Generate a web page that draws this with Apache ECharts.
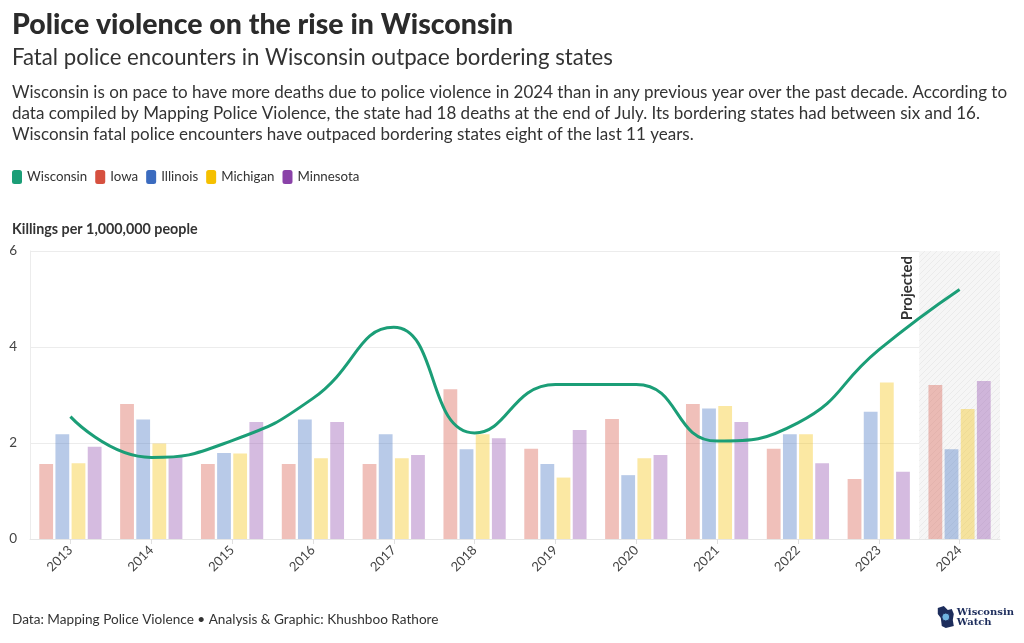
<!DOCTYPE html>
<html><head><meta charset="utf-8">
<script src="https://cdn.jsdelivr.net/npm/echarts@6/dist/echarts.min.js"></script>
<style>html,body{margin:0;padding:0;background:#fff}#c{width:1024px;height:643px}</style>
</head><body><div id="c"></div>
<script>
const years = ['2013','2014','2015','2016','2017','2018','2019','2020','2021','2022','2023','2024'];
const yTicks = [0, 2, 4, 6];
const wisconsin = [2.55, 1.70, 2.05, 2.93, 4.41, 2.21, 3.22, 3.22, 2.04, 2.42, 3.94, 5.20];
const iowa      = [1.56, 2.81, 1.56, 1.56, 1.56, 3.12, 1.88, 2.50, 2.81, 1.88, 1.25, 3.21];
const illinois  = [2.18, 2.49, 1.79, 2.49, 2.18, 1.87, 1.56, 1.33, 2.72, 2.18, 2.65, 1.87];
const michigan  = [1.58, 1.99, 1.78, 1.68, 1.68, 2.18, 1.28, 1.68, 2.77, 2.18, 3.26, 2.71];
const minnesota = [1.92, 1.71, 2.44, 2.44, 1.75, 2.10, 2.27, 1.75, 2.44, 1.58, 1.40, 3.29];
const projectedIndex = 11;

const FONT = 'Lato, "Source Sans Pro", "Noto Sans", sans-serif';
const colors = {Wisconsin:'#1b9e77', Iowa:'#d6503f', Illinois:'#3b6bbf', Michigan:'#f5c000', Minnesota:'#8a42a8'};

// hatch pattern for projected area
const pc = document.createElement('canvas');
pc.width = 6; pc.height = 6;
const px = pc.getContext('2d');
px.fillStyle = '#f6f6f6'; px.fillRect(0,0,6,6);
px.strokeStyle = '#ebebeb'; px.lineWidth = 1;
px.beginPath(); px.moveTo(0,6); px.lineTo(6,0); px.stroke();
px.beginPath(); px.moveTo(-1,1); px.lineTo(1,-1); px.stroke();
px.beginPath(); px.moveTo(5,7); px.lineTo(7,5); px.stroke();

const chart = echarts.init(document.getElementById('c'), null, {renderer:'canvas'});

function barSeries(name, data){
  return {
    name, type:'bar', data, z:3,
    barGap:'17%', barCategoryGap:'23%',
    itemStyle:{color:colors[name], opacity:0.36},
    emphasis:{disabled:true}
  };
}

chart.setOption({
  animation:false,
  backgroundColor:'#fff',
  textStyle:{fontFamily:FONT},
  title:[
    {text:'Police violence on the rise in Wisconsin', left:12, top:10, padding:0,
     textStyle:{fontFamily:FONT, fontSize:28.5, fontWeight:900, color:'#2b2b2b'}},
    {text:'Fatal police encounters in Wisconsin outpace bordering states', left:12, top:47, padding:0,
     textStyle:{fontFamily:FONT, fontSize:22.2, fontWeight:'normal', color:'#333'}},
    {text:'Wisconsin is on pace to have more deaths due to police violence in 2024 than in any previous year over the past decade. According to\ndata compiled by Mapping Police Violence, the state had 18 deaths at the end of July. Its bordering states had between six and 16.\nWisconsin fatal police encounters have outpaced bordering states eight of the last 11 years.',
     left:12, top:82, padding:0,
     textStyle:{fontFamily:FONT, fontSize:17, fontWeight:'normal', color:'#333', lineHeight:21}},
    {text:'Killings per 1,000,000 people', left:12, top:222, padding:0,
     textStyle:{fontFamily:FONT, fontSize:14.3, fontWeight:'bold', color:'#333'}},
    {text:'Data: Mapping Police Violence • Analysis & Graphic: Khushboo Rathore', left:12, top:613, padding:0,
     textStyle:{fontFamily:FONT, fontSize:13.6, fontWeight:'normal', color:'#333'}}
  ],
  legend:{
    left:12, top:170, padding:0, itemWidth:10, itemHeight:14, itemGap:8, icon:'roundRect',
    textStyle:{fontFamily:FONT, fontSize:13.3, color:'#333'},
    data:['Wisconsin','Iowa','Illinois','Michigan','Minnesota'].map(n=>({name:n, icon:'roundRect', itemStyle:{color:colors[n], opacity:1}})),
    selectedMode:false
  },
  grid:{left:30, right:24, top:251, bottom:104, containLabel:false},
  xAxis:[
    {type:'category', data:years, boundaryGap:true,
     axisLine:{show:true, lineStyle:{color:'#e6e6e6'}},
     axisTick:{show:true, alignWithLabel:true, length:5, lineStyle:{color:'#e0e0e0'}},
     axisLabel:{rotate:45, fontSize:13, color:'#444', margin:9, fontFamily:FONT},
     splitLine:{show:false}},
    {type:'value', min:0, max:years.length, show:false}
  ],
  yAxis:{type:'value', min:yTicks[0], max:yTicks[yTicks.length-1], interval:2,
    axisLine:{show:true, lineStyle:{color:'#ececec'}},
    axisTick:{show:false},
    axisLabel:{fontSize:13.5, color:'#444', margin:13, fontFamily:FONT},
    splitLine:{show:true, lineStyle:{color:'#ececec'}}},
  series:[
    {name:'projected', type:'line', xAxisIndex:1, data:[], z:1, silent:true,
     markArea:{silent:true, itemStyle:{color:{image:pc, repeat:'repeat'}},
       data:[[{xAxis:projectedIndex},{xAxis:years.length}]]},
     markLine:{silent:true, symbol:['none','none'], lineStyle:{color:'rgba(0,0,0,0)', width:0},
       label:{show:true, position:'insideEndTop', formatter:'Projected', fontFamily:FONT,
              fontSize:15, fontWeight:'bold', color:'#333', distance:5},
       data:[{xAxis:projectedIndex}]}
    },
    barSeries('Iowa', iowa),
    barSeries('Illinois', illinois),
    barSeries('Michigan', michigan),
    barSeries('Minnesota', minnesota),
    {name:'Wisconsin', type:'line', data:wisconsin, smooth:0.5, z:5,
     symbol:'none', showSymbol:false,
     lineStyle:{color:colors.Wisconsin, width:3},
     itemStyle:{color:colors.Wisconsin},
     emphasis:{disabled:true}}
  ],
  graphic:[
    {type:'group', right:10, top:606, children:[
      {type:'polygon', shape:{points:[[0,2],[6,0],[10,4],[14,3],[16,8],[15,14],[16,20],[8,22],[4,20],[3,12],[0,8]]},
       style:{fill:'#1d2d5c'}},
      {type:'circle', shape:{cx:8, cy:11, r:4}, style:{fill:'#6fb3e0', stroke:'#1d2d5c', lineWidth:1}},
      {type:'text', x:19, y:1, style:{text:'Wisconsin\nWatch', font:'bold 10px "DejaVu Serif", serif', fill:'#1d2d5c', lineHeight:10}}
    ]}
  ]
});
</script>
</body></html>
